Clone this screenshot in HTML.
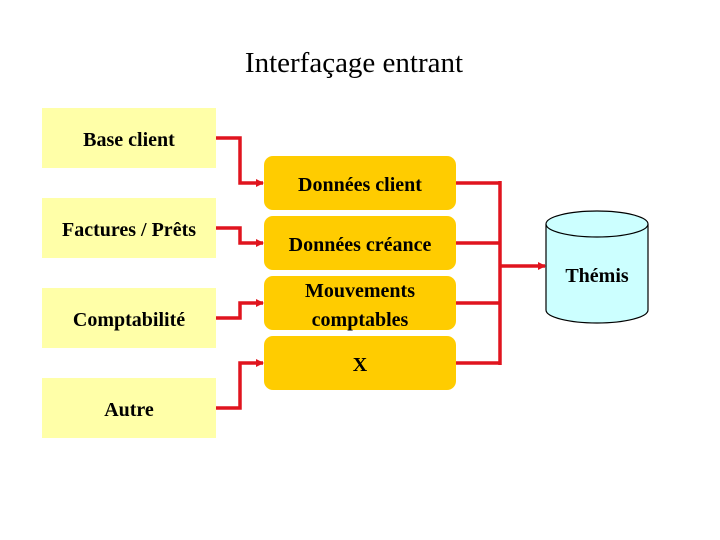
<!DOCTYPE html>
<html><head><meta charset="utf-8"><style>
html,body{margin:0;padding:0;background:#fff;}
svg{display:block;}
</style></head><body>
<svg width="720" height="540" viewBox="0 0 720 540" xmlns="http://www.w3.org/2000/svg" font-family="Liberation Serif, serif">
<defs>
<marker id="a" markerWidth="8" markerHeight="8" refX="7" refY="4" orient="auto" markerUnits="userSpaceOnUse">
<path d="M0,0 L8,4 L0,8 z" fill="#e0141e"/></marker>
</defs>
<text x="354" y="72" font-size="29" text-anchor="middle" fill="#000">Interfaçage entrant</text>
<g fill="#ffffa8">
<rect x="42" y="108" width="174" height="60"/>
<rect x="42" y="198" width="174" height="60"/>
<rect x="42" y="288" width="174" height="60"/>
<rect x="42" y="378" width="174" height="60"/>
</g>
<g font-size="20" font-weight="bold" text-anchor="middle" fill="#000">
<text x="129" y="146">Base client</text>
<text x="129" y="236">Factures / Prêts</text>
<text x="129" y="326">Comptabilité</text>
<text x="129" y="416">Autre</text>
</g>
<g fill="#ffcc00">
<rect x="264" y="156" width="192" height="54" rx="9"/>
<rect x="264" y="216" width="192" height="54" rx="9"/>
<rect x="264" y="276" width="192" height="54" rx="9"/>
<rect x="264" y="336" width="192" height="54" rx="9"/>
</g>
<g font-size="20" font-weight="bold" text-anchor="middle" fill="#000">
<text x="360" y="191">Données client</text>
<text x="360" y="251">Données créance</text>
<text x="360" y="297">Mouvements</text>
<text x="360" y="326">comptables</text>
<text x="360" y="371">X</text>
</g>
<g stroke="#e0141e" stroke-width="3.5" fill="none">
<path d="M216,138 H240 V183 H263" marker-end="url(#a)"/>
<path d="M216,228 H240 V243 H263" marker-end="url(#a)"/>
<path d="M216,318 H240 V303 H263" marker-end="url(#a)"/>
<path d="M216,408 H240 V363 H263" marker-end="url(#a)"/>
<path d="M456,183 H500 M456,243 H500 M456,303 H500 M456,363 H500 M500,181 V365"/>
<path d="M500,266 H545" marker-end="url(#a)"/>
</g>
<path d="M546,224 V310 A51,13 0 0 0 648,310 V224" fill="#ccffff" stroke="#000" stroke-width="1.2"/>
<ellipse cx="597" cy="224" rx="51" ry="13" fill="#ccffff" stroke="#000" stroke-width="1.2"/>
<text x="597" y="282" font-size="20" font-weight="bold" text-anchor="middle" fill="#000">Thémis</text>
</svg>
</body></html>
